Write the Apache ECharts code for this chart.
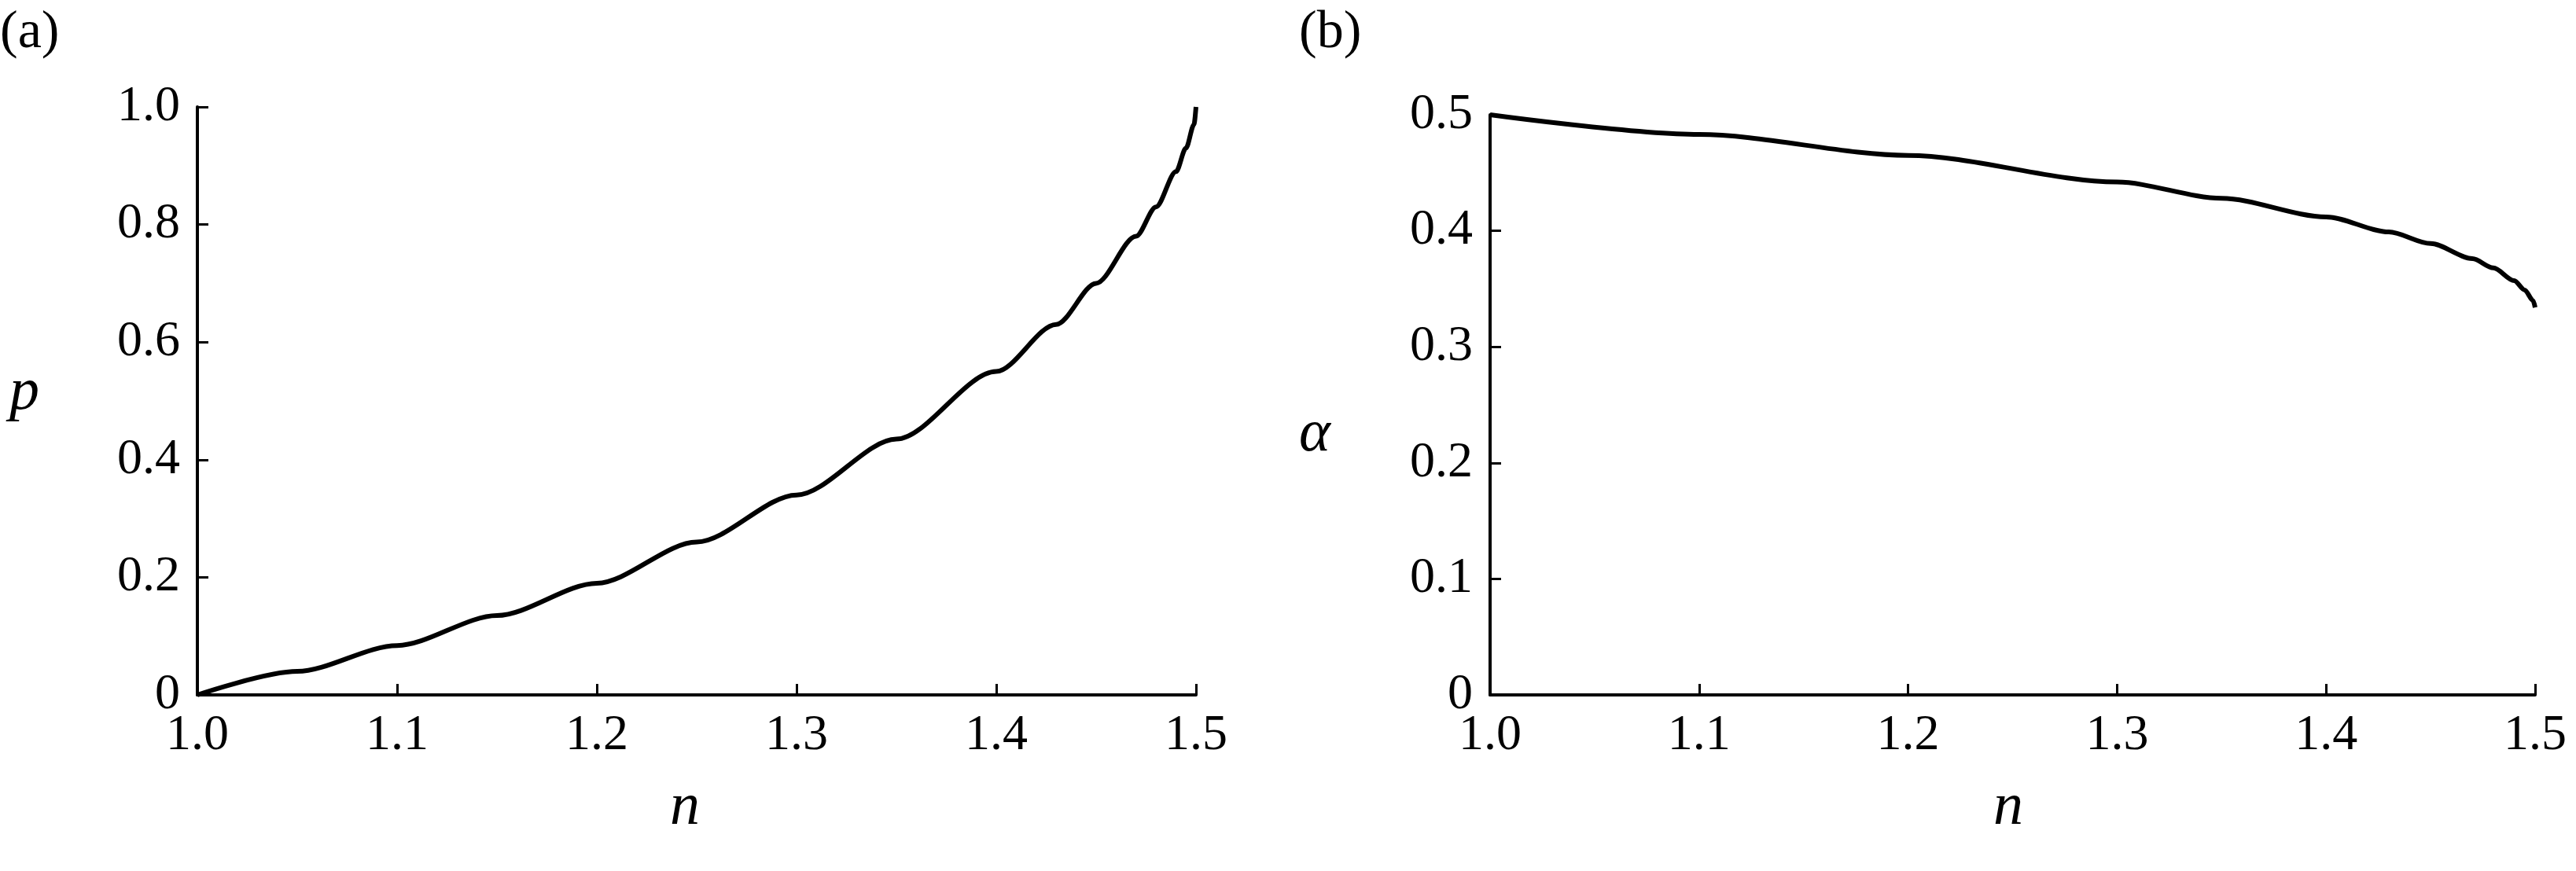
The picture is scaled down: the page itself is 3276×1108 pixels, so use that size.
<!DOCTYPE html>
<html><head><meta charset="utf-8">
<script src="https://cdn.jsdelivr.net/npm/echarts@6/dist/echarts.min.js"></script>
<style>html,body{margin:0;padding:0;background:#fff}#c{width:3276px;height:1108px}</style>
</head><body><div id="c"></div>
<script>
const nA = [1.0,1.05,1.1,1.15,1.2,1.25,1.3,1.35,1.4,1.43,1.45,1.47,1.48,1.49,1.495,1.499,1.5];
const pVals = [0,0.04,0.084,0.135,0.19,0.26,0.34,0.435,0.55,0.63,0.70,0.78,0.83,0.89,0.93,0.97,1.0];
const nB = [1.0,1.1,1.2,1.3,1.35,1.4,1.43,1.45,1.47,1.48,1.49,1.495,1.499,1.5];
const alphaVals = [0.5,0.483,0.465,0.442,0.428,0.412,0.399,0.389,0.376,0.368,0.357,0.349,0.34,0.334];
const xTicks = [1.0,1.1,1.2,1.3,1.4,1.5];

const font = '"Liberation Serif","Times New Roman","DejaVu Serif",serif';
const fmt = v => v === 0 ? '0' : v.toFixed(1);
function xAx(i){return {type:'value',gridIndex:i,min:1.0,max:1.5,interval:0.1,
  axisLine:{lineStyle:{color:'#000',width:4}},axisTick:{inside:true,length:14,lineStyle:{color:'#000',width:3}},
  splitLine:{show:false},axisLabel:{color:'#000',fontFamily:font,fontSize:64,margin:20,formatter:v=>v.toFixed(1)}};}
function yAx(i,max,iv){return {type:'value',gridIndex:i,min:0,max:max,interval:iv,
  axisLine:{show:true,lineStyle:{color:'#000',width:4}},axisTick:{show:true,inside:true,length:14,lineStyle:{color:'#000',width:3}},
  splitLine:{show:false},axisLabel:{color:'#000',fontFamily:font,fontSize:64,margin:22,formatter:fmt}};}
const chart = echarts.init(document.getElementById('c'));
const txt = (t,x,y,it)=>({type:'text',left:x,top:y,style:{text:t,font:(it?'italic ':'')+'76px '+font,fill:'#000'}});
chart.setOption({
  animation:false,
  grid:[{left:251,right:1755,top:136,bottom:224},{left:1895,right:52,top:146,bottom:224}],
  xAxis:[xAx(0),xAx(1)],
  yAxis:[yAx(0,1.0,0.2),yAx(1,0.5,0.1)],
  series:[
    {type:'line',xAxisIndex:0,yAxisIndex:0,data:nA.map((x,i)=>[x,pVals[i]]),smooth:0.3,smoothMonotone:'x',showSymbol:false,lineStyle:{color:'#000',width:6}},
    {type:'line',xAxisIndex:1,yAxisIndex:1,data:nB.map((x,i)=>[x,alphaVals[i]]),smooth:0.3,smoothMonotone:'x',showSymbol:false,lineStyle:{color:'#000',width:6}}
  ],
  graphic:[
    {type:'text',left:0,top:8,style:{text:'(a)',font:'68px '+font,fill:'#000'}},
    {type:'text',left:1652,top:8,style:{text:'(b)',font:'68px '+font,fill:'#000'}},
    txt('p',12,462,true), txt('α',1652,515,true),
    txt('n',852,990,true), txt('n',2535,990,true)
  ]
});
</script></body></html>
